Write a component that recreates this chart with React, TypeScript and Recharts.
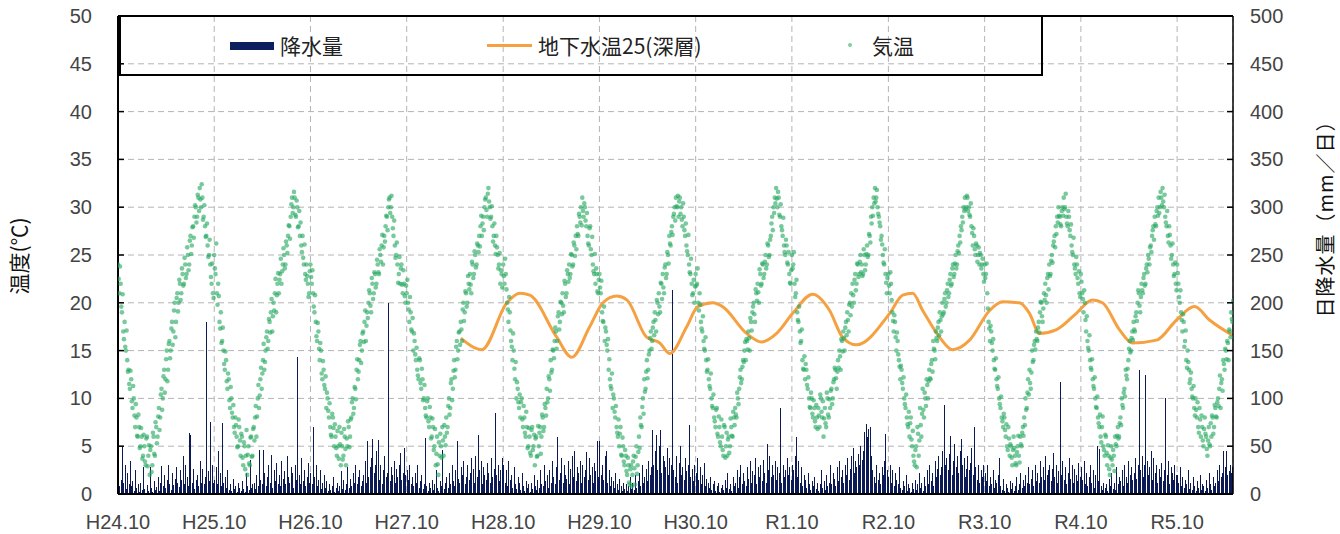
import { ComposedChart, Bar, Line, Scatter, XAxis, YAxis, CartesianGrid, ReferenceLine } from "recharts";

const xLabels = ["H24.10", "H25.10", "H26.10", "H27.10", "H28.10", "H29.10", "H30.10", "R1.10", "R2.10", "R3.10", "R4.10", "R5.10"];
// days from 2012-10-01 to each Oct 1
const yearStarts = [0, 365, 730, 1095, 1461, 1826, 2191, 2556, 2922, 3287, 3652, 4017];
const tempTicks = [0, 5, 10, 15, 20, 25, 30, 35, 40, 45, 50];
const rainTicks = [0, 50, 100, 150, 200, 250, 300, 350, 400, 450, 500];

// 気温 (℃), 5-day steps from Oct 1 of each year
const temp2012 = [24, 21, 22, 19, 17, 18, 15, 14, 13, 11, 12, 9, 10, 7, 8, 6, 7, 5, 6, 4, 5, 3, 6, 4, 2, 5, 3, 6, 4, 7, 6, 9, 8, 11, 10, 13, 12, 15, 13, 16, 15, 18, 17, 20, 18, 21, 20, 22, 21, 23, 22, 24, 23, 25, 24, 27, 26, 28, 29, 30, 29, 31, 32, 30, 31, 29, 28, 27, 26, 25, 24, 22, 21];
const temp2013 = [25, 23, 21, 22, 18, 19, 16, 15, 13, 14, 11, 12, 9, 10, 8, 7, 8, 6, 5, 7, 4, 6, 3, 5, 4, 2, 5, 3, 6, 4, 7, 8, 6, 10, 9, 12, 11, 14, 13, 15, 17, 16, 18, 19, 17, 20, 21, 19, 22, 21, 23, 22, 24, 25, 24, 26, 27, 28, 29, 31, 30, 31, 29, 30, 28, 27, 26, 27, 24, 23, 24, 22, 21];
const temp2014 = [24, 22, 21, 19, 18, 16, 17, 14, 15, 12, 13, 11, 9, 10, 8, 7, 6, 8, 5, 6, 4, 5, 7, 3, 5, 4, 6, 3, 5, 7, 6, 8, 10, 9, 11, 13, 12, 14, 16, 15, 17, 18, 16, 19, 20, 21, 19, 22, 21, 23, 22, 24, 23, 25, 26, 24, 27, 28, 29, 30, 31, 30, 29, 27, 26, 25, 24, 23, 22, 24, 21, 22, 20];
const temp2015 = [21, 20, 18, 19, 17, 15, 16, 14, 13, 12, 14, 11, 12, 10, 9, 8, 10, 7, 8, 6, 7, 5, 3, 6, 2, 4, 5, 7, 4, 6, 8, 7, 10, 9, 12, 11, 14, 13, 16, 15, 17, 18, 16, 20, 19, 21, 20, 22, 23, 21, 24, 23, 25, 24, 26, 27, 28, 27, 29, 30, 31, 29, 32, 30, 29, 28, 27, 26, 27, 25, 24, 22, 23];
const temp2016 = [24, 22, 23, 20, 18, 19, 16, 14, 15, 12, 10, 11, 9, 8, 10, 7, 8, 6, 7, 5, 6, 4, 7, 5, 3, 6, 4, 5, 7, 6, 8, 7, 9, 11, 10, 12, 14, 13, 15, 16, 17, 16, 19, 18, 20, 21, 19, 22, 21, 23, 24, 23, 25, 24, 26, 27, 28, 27, 29, 30, 31, 29, 30, 28, 27, 26, 28, 25, 24, 23, 22, 23, 21];
const temp2017 = [23, 21, 19, 18, 16, 17, 15, 13, 12, 11, 9, 10, 8, 7, 6, 5, 7, 4, 5, 3, 4, 2, 3, 1, 3, 2, 4, 1, 5, 3, 6, 8, 7, 10, 12, 11, 14, 13, 15, 17, 16, 18, 19, 17, 20, 21, 19, 22, 23, 21, 24, 23, 25, 27, 26, 28, 29, 30, 31, 30, 29, 31, 30, 28, 29, 27, 26, 25, 24, 23, 22, 21, 20];
const temp2018 = [23, 22, 20, 21, 18, 17, 16, 15, 14, 13, 12, 11, 10, 9, 8, 7, 9, 6, 7, 5, 6, 4, 7, 5, 4, 6, 5, 7, 6, 8, 9, 8, 10, 11, 13, 12, 14, 15, 14, 16, 17, 15, 18, 19, 20, 18, 21, 22, 20, 23, 22, 24, 23, 25, 24, 26, 25, 27, 29, 30, 31, 32, 30, 31, 29, 28, 27, 26, 25, 26, 24, 23, 22];
const temp2019 = [25, 24, 22, 21, 19, 18, 17, 16, 14, 13, 12, 13, 11, 10, 9, 10, 8, 9, 7, 8, 9, 7, 10, 8, 6, 9, 7, 10, 8, 9, 11, 10, 12, 13, 11, 14, 15, 13, 16, 17, 15, 18, 19, 17, 20, 21, 22, 20, 23, 22, 24, 23, 25, 24, 23, 25, 24, 26, 25, 27, 29, 30, 31, 32, 31, 30, 29, 28, 27, 25, 24, 23, 21];
const temp2020 = [23, 21, 22, 19, 17, 18, 15, 16, 14, 12, 13, 11, 10, 9, 8, 7, 6, 8, 5, 4, 3, 5, 7, 4, 9, 6, 11, 8, 10, 12, 10, 13, 12, 14, 16, 15, 17, 16, 18, 19, 17, 20, 19, 21, 20, 22, 21, 23, 22, 24, 23, 25, 24, 26, 27, 28, 29, 30, 31, 30, 31, 30, 29, 28, 26, 27, 25, 26, 25, 24, 25, 24, 23];
const temp2021 = [24, 23, 21, 18, 16, 17, 15, 14, 13, 12, 11, 10, 9, 8, 7, 8, 6, 5, 7, 4, 5, 3, 6, 4, 3, 5, 4, 6, 5, 7, 8, 10, 9, 12, 13, 11, 15, 14, 16, 17, 16, 18, 19, 20, 18, 21, 22, 20, 23, 24, 23, 25, 26, 27, 28, 29, 30, 29, 28, 30, 31, 30, 29, 28, 29, 27, 26, 25, 24, 23, 24, 22, 21];
const temp2022 = [23, 21, 19, 20, 17, 16, 15, 14, 13, 12, 11, 10, 9, 8, 7, 6, 7, 5, 4, 6, 3, 4, 2, 5, 3, 4, 6, 5, 7, 6, 8, 10, 9, 11, 13, 12, 14, 16, 15, 17, 18, 17, 19, 20, 21, 19, 22, 21, 23, 22, 24, 25, 24, 26, 27, 28, 29, 28, 30, 31, 30, 31, 32, 30, 29, 28, 27, 28, 26, 25, 24, 23, 22];
const temp2023 = [24, 22, 20, 19, 17, 18, 16, 14, 15, 13, 12, 11, 10, 9, 10, 8, 7, 9, 6, 7, 5, 8, 6, 4, 7, 5, 6, 8, 7, 9, 8, 10, 11, 9, 12, 14, 13, 15, 16, 14, 17, 19, 18];

// 気温 (℃), the same steps shifted by 2.5 days
const tempB2012 = [22.5, 23.8, 19.6, 20.9, 16.2, 15.4, 17.1, 12.8, 11.5, 12.9, 9.7, 11.3, 8.2, 9.4, 6.1, 8.3, 4.8, 6.9, 3.7, 6.2, 3.4, 5.8, 2.9, 5.1, 4.6, 2.3, 6.4, 4.2, 7.5, 5.3, 8.1, 6.7, 10.4, 8.8, 12.3, 10.6, 14.1, 11.8, 15.7, 14.2, 17.3, 15.6, 19.2, 16.4, 20.5, 19.1, 22.4, 20.3, 23.6, 21.8, 24.7, 22.6, 25.8, 23.4, 26.5, 25.1, 27.9, 26.8, 30.2, 28.4, 31.3, 29.6, 30.8, 32.4, 28.7, 30.2, 26.9, 28.3, 24.8, 26.6, 22.7, 24.1, 20.5];
const tempB2013 = [23.6, 26.2, 19.8, 20.7, 17.3, 15.8, 17.4, 13.6, 14.9, 11.8, 12.6, 9.8, 11.2, 8.5, 9.3, 6.4, 7.2, 4.9, 7.8, 5.6, 6.3, 3.8, 5.4, 2.6, 6.7, 4.1, 3.2, 5.9, 3.9, 6.8, 5.6, 9.2, 8.1, 11.4, 10.3, 13.2, 12.6, 15.7, 13.8, 16.4, 15.2, 18.3, 16.9, 20.4, 18.6, 19.2, 22.5, 20.8, 23.1, 22.4, 24.6, 23.3, 25.7, 23.6, 26.4, 25.2, 28.1, 26.7, 30.3, 29.4, 31.6, 29.2, 30.7, 27.9, 29.6, 28.4, 25.3, 24.7, 26.1, 22.4, 22.8, 20.6, 23.3];
const tempB2014 = [22.7, 23.4, 19.6, 20.8, 16.5, 17.9, 15.2, 15.8, 12.6, 13.9, 11.4, 12.3, 10.6, 8.7, 9.5, 6.2, 8.4, 6.9, 7.3, 4.8, 6.6, 3.7, 5.2, 6.4, 3.6, 6.8, 4.7, 5.8, 7.6, 4.9, 7.8, 9.6, 8.4, 11.2, 9.9, 14.1, 12.8, 15.6, 13.7, 16.8, 15.9, 19.2, 17.6, 18.4, 21.3, 19.7, 22.6, 20.4, 23.2, 21.6, 24.5, 23.2, 25.6, 24.3, 27.1, 25.8, 26.4, 29.1, 27.6, 30.8, 29.4, 31.2, 27.8, 28.6, 24.7, 26.3, 22.1, 24.8, 23.6, 21.9, 23.4, 20.7, 21.8];
const tempB2015 = [22.4, 19.3, 20.6, 17.2, 18.4, 16.8, 14.6, 15.3, 12.4, 14.2, 11.6, 13.1, 9.8, 11.4, 8.2, 9.7, 7.6, 9.1, 5.8, 7.9, 4.6, 6.8, 4.2, 3.1, 5.4, 6.3, 3.8, 5.6, 7.2, 5.1, 6.4, 9.2, 8.3, 11.6, 9.8, 12.9, 12.2, 15.4, 14.1, 16.9, 15.6, 17.2, 19.3, 18.1, 21.2, 19.6, 22.8, 21.4, 21.9, 24.3, 22.6, 25.4, 23.7, 26.2, 25.3, 25.9, 29.1, 28.3, 27.6, 30.8, 29.7, 31.4, 30.6, 28.8, 30.1, 26.4, 28.3, 25.1, 25.8, 23.6, 25.2, 23.4, 21.6];
const tempB2016 = [22.8, 24.6, 21.4, 19.3, 20.6, 17.1, 15.4, 16.8, 13.1, 13.8, 11.7, 9.6, 10.4, 9.6, 7.8, 9.2, 6.4, 8.6, 4.8, 6.9, 4.3, 6.7, 4.6, 6.2, 5.8, 3.9, 7.1, 6.4, 4.2, 8.3, 6.6, 9.4, 8.2, 9.6, 12.3, 10.8, 12.7, 15.1, 14.2, 17.4, 15.2, 18.6, 17.2, 20.1, 18.8, 19.7, 22.3, 20.6, 23.4, 22.2, 22.6, 25.1, 23.8, 26.3, 24.9, 25.6, 27.2, 29.3, 28.4, 28.1, 29.6, 30.4, 28.6, 29.4, 26.2, 27.8, 25.6, 26.9, 23.3, 25.1, 23.6, 21.2, 22.4];
const tempB2017 = [21.6, 22.3, 18.1, 19.6, 17.4, 15.6, 16.2, 14.1, 11.3, 12.6, 10.4, 8.6, 9.2, 6.4, 7.8, 6.3, 4.1, 5.9, 3.4, 4.6, 2.4, 3.8, 1.2, 2.6, 0.8, 3.4, 2.7, 3.9, 2.1, 4.4, 4.8, 7.2, 9.1, 8.4, 10.7, 12.8, 12.1, 14.6, 16.3, 15.2, 17.4, 16.6, 18.2, 20.3, 18.8, 19.6, 22.1, 20.4, 21.6, 23.7, 22.6, 25.3, 24.1, 26.2, 27.4, 27.1, 29.3, 28.6, 30.1, 31.2, 30.6, 29.3, 28.7, 30.4, 27.6, 28.3, 25.4, 27.1, 23.2, 24.6, 20.8, 22.4, 21.7];
const tempB2018 = [21.8, 23.6, 19.2, 19.8, 17.3, 18.6, 15.2, 16.4, 12.8, 14.1, 11.3, 12.6, 9.2, 10.4, 7.6, 8.8, 6.3, 8.1, 5.4, 7.8, 4.6, 7.2, 3.8, 6.4, 5.7, 4.3, 7.9, 6.1, 8.6, 7.2, 8.3, 10.6, 9.4, 12.2, 11.6, 13.3, 13.8, 15.9, 16.2, 15.1, 16.3, 18.4, 17.1, 19.6, 18.8, 21.4, 20.2, 21.1, 23.5, 21.8, 24.1, 22.6, 24.3, 23.6, 26.2, 24.8, 26.6, 28.3, 27.6, 29.4, 30.4, 30.9, 31.6, 29.2, 30.3, 27.6, 28.9, 25.3, 26.6, 24.2, 25.3, 22.1, 23.4];
const tempB2019 = [23.6, 25.3, 20.6, 22.4, 18.2, 19.6, 15.8, 17.2, 13.1, 14.4, 13.6, 11.4, 12.2, 9.1, 10.6, 8.4, 9.8, 7.6, 9.3, 6.8, 8.2, 10.4, 8.6, 9.7, 7.9, 7.4, 10.6, 8.3, 9.9, 10.8, 9.4, 11.7, 13.2, 12.1, 12.8, 13.2, 14.4, 16.2, 14.9, 16.3, 17.4, 16.6, 18.2, 19.8, 18.7, 19.6, 20.8, 22.4, 21.3, 24.1, 22.7, 24.3, 23.2, 22.8, 25.6, 23.4, 25.1, 24.8, 27.2, 26.3, 28.3, 29.1, 30.4, 30.6, 31.8, 29.3, 28.4, 26.6, 26.1, 24.2, 25.6, 22.1, 22.6];
const tempB2020 = [21.8, 23.2, 20.3, 18.1, 18.7, 16.4, 16.9, 14.6, 13.3, 13.4, 11.6, 12.2, 9.4, 10.4, 7.3, 8.6, 7.4, 5.7, 6.6, 3.4, 4.6, 2.8, 6.3, 5.6, 7.2, 8.4, 8.8, 10.6, 9.2, 11.4, 11.8, 12.1, 13.6, 12.8, 15.2, 14.1, 16.3, 17.4, 16.6, 18.2, 18.6, 18.8, 20.4, 19.6, 21.3, 20.6, 22.4, 21.8, 23.6, 22.7, 24.1, 23.6, 25.4, 25.2, 26.3, 27.6, 28.4, 29.6, 29.8, 31.2, 29.6, 29.2, 30.4, 27.3, 27.8, 25.6, 26.2, 24.3, 25.8, 25.2, 23.6, 24.6, 22.2];
const tempB2021 = [22.6, 24.1, 19.4, 17.3, 17.6, 15.8, 16.2, 13.1, 14.2, 11.3, 12.2, 9.4, 10.2, 7.6, 8.4, 6.7, 7.3, 4.6, 5.8, 5.2, 3.8, 4.6, 4.8, 3.2, 4.4, 6.1, 3.3, 5.2, 6.4, 6.1, 7.2, 8.8, 10.6, 10.4, 11.6, 12.7, 13.8, 15.6, 15.1, 16.2, 17.4, 16.9, 20.1, 18.6, 19.4, 20.3, 20.8, 22.6, 21.4, 22.8, 24.4, 24.2, 26.4, 25.8, 27.2, 28.4, 29.1, 28.2, 29.6, 29.1, 29.8, 31.4, 28.3, 29.6, 27.6, 28.2, 25.3, 26.8, 23.6, 24.8, 22.6, 23.3, 20.6];
const tempB2022 = [22.2, 20.4, 21.3, 18.2, 18.6, 15.3, 16.6, 13.2, 14.1, 11.3, 12.2, 9.1, 10.2, 7.4, 8.3, 5.4, 8.1, 4.6, 6.2, 4.3, 5.1, 2.6, 3.8, 3.6, 4.6, 2.4, 5.2, 6.1, 5.8, 7.4, 7.2, 9.3, 10.6, 10.2, 12.4, 13.1, 15.2, 14.8, 16.3, 16.1, 17.2, 18.6, 18.1, 21.3, 19.7, 20.6, 21.3, 22.6, 21.8, 23.6, 23.2, 24.6, 25.8, 25.3, 27.6, 26.6, 28.2, 29.6, 29.1, 29.4, 31.6, 30.2, 30.6, 31.3, 28.4, 29.6, 26.3, 27.1, 24.6, 26.2, 22.8, 24.2, 21.3];
const tempB2023 = [23.1, 20.6, 21.3, 18.2, 18.8, 15.4, 17.1, 13.2, 13.8, 11.6, 12.7, 10.2, 11.3, 8.2, 8.8, 9.6, 6.4, 7.8, 8.2, 5.6, 6.8, 6.3, 4.7, 5.6, 5.2, 7.4, 8.2, 6.3, 9.3, 8.1, 9.6, 9.2, 12.4, 11.6, 10.8, 13.6, 15.2, 14.1, 15.8, 17.2, 16.4, 18.3, 20.2];

// 日降水量 (mm), max of each 5-day step
const rain2012 = [20, 8, 15, 49, 12, 30, 5, 22, 10, 35, 8, 14, 3, 25, 6, 10, 2, 12, 4, 28, 5, 1, 9, 3, 28, 6, 2, 14, 4, 7, 18, 3, 12, 29, 8, 20, 6, 15, 30, 10, 4, 22, 9, 16, 28, 12, 7, 25, 15, 40, 10, 30, 18, 8, 64, 62, 12, 26, 5, 15, 20, 8, 34, 12, 26, 10, 18, 180, 24, 14, 75, 30, 12];
const rain2013 = [15, 28, 10, 45, 22, 8, 74, 12, 18, 6, 25, 4, 10, 3, 16, 5, 8, 2, 12, 6, 3, 14, 5, 2, 22, 8, 4, 36, 6, 10, 12, 5, 20, 8, 46, 15, 10, 46, 22, 8, 18, 30, 12, 41, 6, 25, 14, 32, 10, 20, 8, 35, 16, 24, 10, 40, 18, 12, 28, 22, 6, 30, 15, 143, 20, 10, 38, 14, 25, 8, 18, 32, 12];
const rain2014 = [22, 10, 70, 18, 30, 8, 15, 25, 5, 12, 20, 6, 14, 3, 10, 4, 8, 18, 2, 6, 12, 3, 8, 24, 5, 15, 4, 10, 28, 6, 16, 8, 22, 12, 30, 10, 18, 25, 8, 14, 20, 35, 12, 55, 18, 28, 38, 58, 22, 30, 45, 56, 15, 30, 10, 25, 40, 18, 22, 200, 14, 28, 20, 35, 12, 26, 18, 30, 43, 15, 22, 48, 20];
const rain2015 = [25, 15, 30, 10, 18, 8, 22, 12, 30, 6, 14, 20, 5, 10, 59, 8, 3, 12, 6, 15, 4, 10, 25, 6, 3, 14, 8, 46, 5, 12, 18, 6, 22, 10, 30, 14, 8, 25, 55, 16, 12, 28, 20, 35, 10, 18, 30, 15, 22, 38, 26, 12, 40, 18, 62, 25, 35, 10, 28, 20, 15, 32, 22, 12, 38, 18, 26, 85, 20, 30, 14, 25, 38];
const rain2016 = [30, 12, 25, 8, 35, 15, 20, 6, 28, 10, 5, 18, 12, 4, 22, 8, 3, 14, 6, 10, 2, 12, 5, 20, 8, 4, 15, 6, 25, 10, 8, 30, 14, 20, 6, 25, 12, 35, 18, 10, 28, 60, 15, 22, 38, 12, 30, 20, 16, 35, 10, 26, 40, 18, 45, 14, 28, 22, 35, 12, 30, 18, 25, 44, 15, 38, 20, 28, 12, 32, 24, 55, 18];
const rain2017 = [55, 20, 30, 15, 40, 45, 12, 25, 8, 18, 14, 6, 22, 10, 4, 16, 8, 3, 12, 5, 10, 3, 8, 18, 5, 12, 4, 20, 6, 14, 22, 8, 30, 12, 18, 26, 14, 35, 20, 28, 67, 30, 45, 62, 25, 50, 67, 22, 40, 35, 28, 48, 20, 38, 30, 213, 25, 18, 40, 12, 32, 50, 20, 28, 15, 38, 24, 30, 72, 18, 26, 14, 30];
const rain2018 = [22, 38, 15, 28, 10, 20, 32, 8, 16, 12, 6, 18, 4, 10, 14, 3, 8, 12, 2, 6, 9, 4, 15, 6, 22, 5, 10, 3, 18, 8, 12, 25, 6, 18, 30, 10, 22, 14, 8, 28, 16, 35, 12, 24, 20, 38, 10, 28, 18, 30, 14, 36, 22, 12, 52, 25, 40, 18, 30, 20, 35, 15, 28, 22, 90, 12, 30, 18, 25, 38, 20, 28, 15];
const rain2019 = [30, 25, 40, 60, 18, 35, 12, 28, 8, 20, 15, 6, 22, 10, 4, 14, 8, 18, 5, 12, 3, 10, 25, 6, 14, 4, 20, 8, 12, 30, 10, 22, 16, 8, 28, 14, 35, 18, 25, 12, 30, 20, 38, 15, 26, 40, 48, 22, 35, 28, 42, 30, 50, 36, 45, 65, 73, 60, 68, 70, 40, 25, 18, 12, 30, 15, 22, 10, 28, 20, 35, 63, 25];
const rain2020 = [18, 30, 12, 25, 8, 22, 15, 10, 28, 6, 4, 14, 8, 20, 3, 10, 6, 2, 12, 5, 15, 4, 10, 22, 6, 12, 3, 18, 8, 25, 10, 30, 14, 22, 8, 35, 18, 26, 40, 20, 28, 45, 93, 30, 38, 25, 42, 61, 20, 35, 52, 28, 40, 22, 45, 58, 30, 38, 18, 26, 40, 25, 32, 48, 20, 70, 28, 15, 30, 12, 25, 18, 30];
const rain2021 = [22, 14, 30, 8, 18, 10, 25, 6, 15, 12, 20, 38, 8, 4, 16, 3, 10, 6, 2, 14, 5, 12, 3, 8, 18, 4, 10, 22, 6, 15, 8, 20, 12, 28, 10, 16, 25, 8, 30, 14, 22, 12, 35, 18, 28, 15, 40, 20, 25, 30, 14, 26, 43, 18, 30, 12, 24, 117, 20, 35, 15, 28, 10, 22, 38, 16, 30, 12, 26, 20, 14, 32, 18];
const rain2022 = [28, 15, 35, 10, 22, 8, 18, 30, 12, 25, 6, 20, 50, 14, 47, 8, 4, 12, 6, 10, 3, 16, 8, 22, 5, 12, 4, 28, 10, 18, 14, 25, 8, 30, 18, 12, 35, 20, 28, 15, 22, 38, 16, 30, 130, 25, 40, 18, 30, 124, 35, 20, 28, 45, 15, 38, 22, 30, 12, 26, 18, 32, 14, 25, 100, 20, 35, 10, 28, 22, 15, 30, 20];
const rain2023 = [20, 12, 28, 8, 18, 6, 15, 10, 25, 5, 12, 4, 18, 8, 3, 14, 6, 20, 4, 10, 8, 3, 15, 6, 22, 10, 4, 18, 8, 12, 25, 14, 30, 18, 22, 45, 28, 45, 20, 24, 30, 22, 28];

// 地下水温25(深層)
const gwDays = [1300, 1380, 1475, 1524, 1562, 1664, 1721, 1789, 1839, 1892, 1930, 2005, 2055, 2093, 2157, 2199, 2256, 2293, 2384, 2441, 2498, 2559, 2635, 2699, 2748, 2801, 2927, 2976, 3014, 3052, 3116, 3165, 3230, 3306, 3355, 3419, 3457, 3495, 3560, 3635, 3696, 3734, 3798, 3848, 3939, 4015, 4083, 4140, 4227];
const gwTemp = [16.3, 15.1, 20.0, 21.0, 20.8, 16.4, 14.3, 17.5, 20.0, 20.7, 20.3, 16.4, 15.8, 14.7, 17.5, 19.6, 20.0, 19.6, 16.8, 15.9, 16.8, 18.9, 20.9, 19.2, 16.4, 15.6, 18.9, 20.8, 21.0, 19.2, 16.4, 15.1, 16.1, 19.2, 20.1, 20.0, 18.9, 16.8, 17.2, 18.9, 20.3, 20.0, 17.2, 15.8, 16.1, 18.2, 19.6, 18.2, 16.6];

const tempYears = [temp2012, temp2013, temp2014, temp2015, temp2016, temp2017, temp2018, temp2019, temp2020, temp2021, temp2022, temp2023];
const tempYearsB = [tempB2012, tempB2013, tempB2014, tempB2015, tempB2016, tempB2017, tempB2018, tempB2019, tempB2020, tempB2021, tempB2022, tempB2023];
const rainYears = [rain2012, rain2013, rain2014, rain2015, rain2016, rain2017, rain2018, rain2019, rain2020, rain2021, rain2022, rain2023];

const tempData = [
  ...tempYears.flatMap((arr, k) => arr.map((t, s) => ({ d: yearStarts[k] + s * 5, t }))),
  ...tempYearsB.flatMap((arr, k) => arr.map((t, s) => ({ d: yearStarts[k] + s * 5 + 2.5, t }))),
];
const rainData = rainYears.flatMap((arr, k) => arr.map((r, s) => ({ d: yearStarts[k] + s * 5, r })));
const gwData = gwDays.map((d, i) => ({ d, g: gwTemp[i] }));

const numFont = "'Liberation Sans', Arial, sans-serif";
const jpFont = "'Noto Sans CJK JP', sans-serif";

const LeftTick = ({ x, y, payload }: any) => (
  <g>
    {payload.value > 0 && payload.value < 50 && <line x1={x + 26} x2={x + 32} y1={y} y2={y} stroke="#000" strokeWidth={1.5} />}
    <text x={x} y={y} dy={7} textAnchor="end" fontSize={20} fill="#444" fontFamily={numFont}>{payload.value}</text>
  </g>
);

const RightTick = ({ x, y, payload }: any) => (
  <g>
    {payload.value > 0 && payload.value < 500 && <line x1={x - 23} x2={x - 17} y1={y} y2={y} stroke="#000" strokeWidth={1.5} />}
    <text x={x} y={y} dy={7} textAnchor="start" fontSize={20} fill="#444" fontFamily={numFont}>{payload.value}</text>
  </g>
);

const BottomTick = ({ x, y, payload }: any) => (
  <text x={x} y={y + 33} textAnchor="middle" fontSize={20} fill="#444" fontFamily={numFont}>
    {xLabels[yearStarts.indexOf(payload.value)]}
  </text>
);

const RainBar = (p: any) =>
  p.height > 0 ? <rect x={Math.round(p.x + p.width / 2)} y={p.y} width={1} height={p.height} fill="#0b1a55" shapeRendering="crispEdges" /> : null;

const Dot = (p: any) => <circle cx={p.cx} cy={p.cy} r={2.3} fill="#25a85f" fillOpacity={0.62} />;

export default function App() {
  return (
    <div style={{ position: "absolute", left: 0, top: 0, width: 1340, height: 534, background: "#fff" }}>
      <ComposedChart width={1340} height={534} data={rainData} margin={{ top: 16, right: 0, bottom: 0, left: 0 }}>
        <CartesianGrid stroke="#b4b4b4" strokeDasharray="6 4" />
        <XAxis
          dataKey="d"
          type="number"
          domain={[0, 4229]}
          allowDataOverflow
          ticks={yearStarts}
          height={40}
          tickSize={0}
          tickLine={false}
          axisLine={{ stroke: "#000", strokeWidth: 2 }}
          tick={<BottomTick />}
        />
        <YAxis
          domain={[0, 50]}
          ticks={tempTicks}
          width={118}
          tickSize={0}
          tickMargin={26}
          tickLine={false}
          axisLine={{ stroke: "#000", strokeWidth: 2 }}
          tick={<LeftTick />}
        />
        <YAxis
          yAxisId="r"
          orientation="right"
          domain={[0, 500]}
          ticks={rainTicks}
          width={107}
          tickSize={0}
          tickMargin={17}
          tickLine={false}
          axisLine={{ stroke: "#000", strokeWidth: 1.5 }}
          tick={<RightTick />}
        />
        <Bar yAxisId="r" dataKey="r" barSize={1} shape={<RainBar />} isAnimationActive={false} />
        <Line data={gwData} dataKey="g" type="monotone" stroke="#f5a142" strokeWidth={3} dot={false} isAnimationActive={false} />
        <Scatter data={tempData} dataKey="t" shape={<Dot />} isAnimationActive={false} />
        <ReferenceLine y={50} stroke="#000" strokeWidth={2} />
      </ComposedChart>

      {/* legend box */}
      <div style={{ position: "absolute", left: 119, top: 15, width: 924, height: 61, boxSizing: "border-box", border: "2px solid #000" }} />
      <div style={{ position: "absolute", left: 230, top: 42, width: 44, height: 8, background: "#0c2060" }} />
      <div style={{ position: "absolute", left: 280, top: 31, fontSize: 21, lineHeight: "28px", fontFamily: jpFont, color: "#222" }}>降水量</div>
      <div style={{ position: "absolute", left: 487, top: 44, width: 45, height: 3, background: "#f5a142" }} />
      <div style={{ position: "absolute", left: 538, top: 31, fontSize: 21, lineHeight: "28px", fontFamily: jpFont, color: "#222" }}>地下水温25(深層)</div>
      <div style={{ position: "absolute", left: 848, top: 43, width: 4, height: 4, borderRadius: 2, background: "#7fcf9f" }} />
      <div style={{ position: "absolute", left: 872, top: 31, fontSize: 21, lineHeight: "28px", fontFamily: jpFont, color: "#222" }}>気温</div>

      {/* axis titles */}
      <div style={{ position: "absolute", left: 18, top: 256, transform: "translate(-50%, -50%) rotate(-90deg)", whiteSpace: "nowrap", fontSize: 21, lineHeight: "24px", fontFamily: jpFont, color: "#111" }}>温度(℃)</div>
      <div style={{ position: "absolute", left: 1325, top: 214, transform: "translate(-50%, -50%) rotate(-90deg)", whiteSpace: "nowrap", fontSize: 20, lineHeight: "24px", letterSpacing: 1, fontFamily: jpFont, color: "#111" }}>日降水量（mm／日）</div>
    </div>
  );
}
